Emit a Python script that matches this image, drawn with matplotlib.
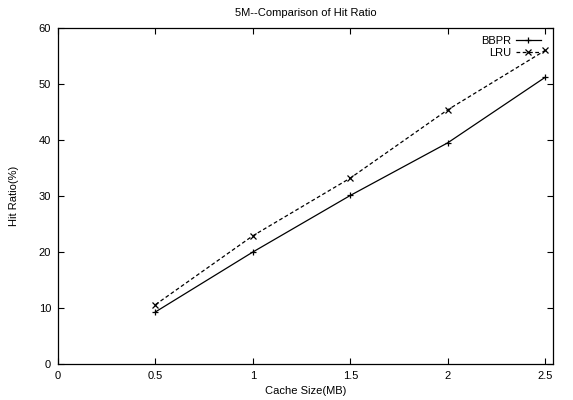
import matplotlib
matplotlib.use("Agg")
import matplotlib.pyplot as plt

plt.rcParams['font.family'] = ['Liberation Sans', 'DejaVu Sans']

# data
cache_mb = [0.5, 1, 1.5, 2, 2.5]
bbpr = [9.3, 20.0, 30.1, 39.5, 51.2]
lru = [10.6, 22.9, 33.2, 45.4, 56.0]

xticks = [0, 0.5, 1, 1.5, 2, 2.5]
xtick_labels = ["0", "0.5", "1", "1.5", "2", "2.5"]
yticks = [0, 10, 20, 30, 40, 50, 60]

fig = plt.figure(figsize=(5.73, 4.0), dpi=100)
ax = fig.add_axes([58 / 573, 36 / 400, 495 / 573, 336 / 400])

ax.plot(cache_mb, bbpr, color="black", linestyle="-", linewidth=0.9,
        marker="+", markersize=5, markeredgewidth=0.9, label="BBPR")
ax.plot(cache_mb, lru, color="black", linestyle=(0, (3, 2)), linewidth=0.9,
        marker="x", markersize=4, markeredgewidth=0.9, label="LRU")

ax.set_xlim(0, 2.54)
ax.set_ylim(0, 60)
ax.set_xticks(xticks)
ax.set_xticklabels(xtick_labels)
ax.set_yticks(yticks)
ax.tick_params(direction="in", top=True, right=True, labelsize=8, length=4,
               width=0.8, pad=5)
for s in ax.spines.values():
    s.set_linewidth(0.9)

ax.set_xlabel("Cache Size(MB)", fontsize=8, labelpad=4)
ax.set_ylabel("Hit Ratio(%)", fontsize=8, labelpad=14)
ax.set_title("5M--Comparison of Hit Ratio", fontsize=8, pad=9)

leg = ax.legend(loc="upper right", bbox_to_anchor=(0.976, 0.976), frameon=False,
                fontsize=8, markerfirst=False, handlelength=2.3,
                handletextpad=0.35, borderaxespad=0.0, borderpad=0.0,
                labelspacing=0.15)

fig.savefig("out.png", dpi=100)
